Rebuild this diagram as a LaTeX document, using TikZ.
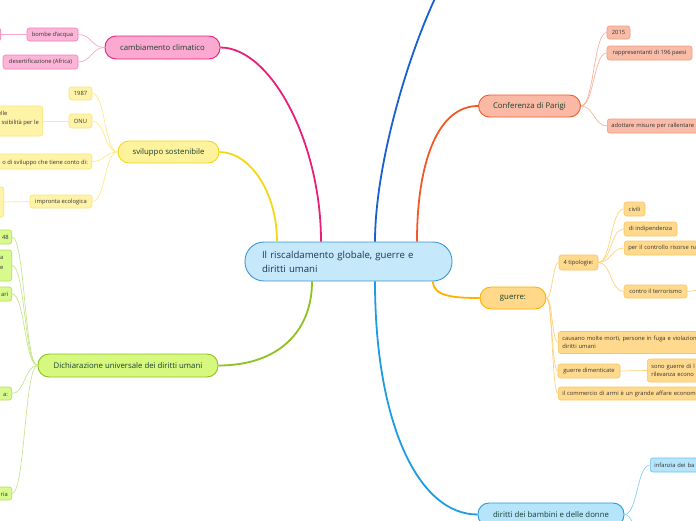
\documentclass[tikz,border=0pt]{standalone}
\usepackage{fontspec}
\setmainfont{Open Sans}
\usetikzlibrary{positioning}

\definecolor{rootfill}{HTML}{C6E8FB}
\definecolor{rootline}{HTML}{3A96D6}
\definecolor{roottext}{HTML}{1C3552}
\definecolor{topictext}{HTML}{173F2E}
\definecolor{leaftext}{HTML}{333333}
% pink
\definecolor{pinkline}{HTML}{E8207A}
\definecolor{pinkfill}{HTML}{FBA9D1}
\definecolor{pinkleaf}{HTML}{FBB5D7}
\definecolor{pinkedge}{HTML}{F27DB7}
\definecolor{pinktwig}{HTML}{F8A6CC}
% yellow
\definecolor{yelline}{HTML}{F2D816}
\definecolor{yelfill}{HTML}{FFF29C}
\definecolor{yelleaf}{HTML}{FFF3A8}
\definecolor{yeledge}{HTML}{F8E27A}
\definecolor{yeltwig}{HTML}{FAE98E}
% green
\definecolor{grnline}{HTML}{8DC21F}
\definecolor{grnfill}{HTML}{D6F87E}
\definecolor{grnleaf}{HTML}{D8F98C}
\definecolor{grnedge}{HTML}{B2DF5A}
\definecolor{grntwig}{HTML}{C6E68C}
% salmon
\definecolor{salline}{HTML}{F05A28}
\definecolor{salfill}{HTML}{F9B9A5}
\definecolor{salleaf}{HTML}{F9BCA9}
\definecolor{saledge}{HTML}{F49A7C}
\definecolor{saltwig}{HTML}{F7B29C}
% orange
\definecolor{oraline}{HTML}{FFB000}
\definecolor{orafill}{HTML}{FFD88A}
\definecolor{oraleaf}{HTML}{FFDA8E}
\definecolor{oraedge}{HTML}{FCC55C}
\definecolor{oratwig}{HTML}{FFD27A}
% blue
\definecolor{bluline}{HTML}{1E9BE3}
\definecolor{blufill}{HTML}{B6E4FA}
\definecolor{bluleaf}{HTML}{B6E4FA}
\definecolor{bluedge}{HTML}{6CC4EE}
\definecolor{blutwig}{HTML}{88CFF2}
\definecolor{darkblu}{HTML}{1A5FD0}

\begin{document}
\begin{tikzpicture}[
  x=1pt, y=-1pt,
  root/.style={draw=rootline, fill=rootfill, line width=0.9pt, rounded corners=19pt,
    minimum width=207pt, minimum height=39pt, text width=173pt, inner xsep=17pt,
    align=left, font=\fontsize{9.6}{14}\selectfont, text=roottext},
  topic/.style={draw, line width=0.9pt, rounded corners=11pt, minimum height=23pt,
    inner sep=0pt, font=\fontsize{7.8}{10}\selectfont, text=topictext},
  leaf/.style={draw, line width=0.6pt, rounded corners=2.5pt, minimum height=13pt,
    inner xsep=4pt, inner ysep=0pt, align=left, font=\fontsize{5.8}{8}\selectfont, text=leaftext},
  frag/.style={inner sep=0pt, font=\fontsize{5.8}{8}\selectfont, text=leaftext},
  branch/.style={line width=1.8pt},
  twig/.style={line width=0.7pt},
]
\useasboundingbox (0,0) rectangle (696,520);
\clip (0,0) rectangle (696,520);

% === ROOT ===
\node[root] (root) at (348.5,261.5) {Il riscaldamento globale, guerre e\\diritti umani};

% === MAIN TOPICS ===
\node[topic, fill=pinkfill, draw=pinkline, minimum width=115pt] (cc) at (162.5,47.5) {cambiamento climatico};
\node[topic, fill=yelfill, draw=yelline, minimum width=101pt, minimum height=22pt] (ss) at (168.5,152) {sviluppo sostenibile};
\node[topic, fill=grnfill, draw=grnline, minimum width=180pt] (du) at (128,365.5) {Dichiarazione universale dei diritti umani};
\node[topic, fill=salfill, draw=salline, minimum width=102pt, minimum height=22pt] (cp) at (529.5,106) {Conferenza di Parigi};
\node[topic, fill=orafill, draw=oraline, minimum width=66pt, minimum height=22pt] (gu) at (513,298) {guerre:};
\node[topic, fill=blufill, draw=bluline, minimum width=146pt] (db) at (551,514.5) {diritti dei bambini e delle donne};
\coordinate (topend) at (480,-60);

\draw[branch, pinkline] ([xshift=-27.5pt]root.north) .. controls +(0,-100) and +(50,0) .. (cc.east);
\draw[branch, yelline] ([xshift=-71.5pt]root.north) .. controls +(0,-50) and +(30,0) .. (ss.east);
\draw[branch, darkblu] ([xshift=26.5pt]root.north) .. controls +(0,-110) and +(-35,0) .. (topend);
\draw[branch, salline] ([xshift=68.5pt]root.north) .. controls +(0,-80) and +(-40,0) .. (cp.west);
\draw[branch, grnline] ([xshift=-36.5pt]root.south) .. controls +(0,50) and +(60,0) .. (du.east);
\draw[branch, bluline] ([xshift=26.5pt]root.south) .. controls +(0,140) and +(-60,0) .. (db.west);
\draw[branch, oraline] ([xshift=84.5pt]root.south) .. controls +(0,15) and +(-25,0) .. (gu.west);

% === cambiamento climatico ===
\node[leaf, fill=pinkleaf, draw=pinkedge, minimum width=51pt] (ba) at (52.5,34.5) {bombe d'acqua};
\node[leaf, fill=pinkleaf, draw=pinkedge, minimum width=60pt, anchor=east] (bx) at (1,34.5) {};
\node[leaf, fill=pinkleaf, draw=pinkedge, minimum width=75pt, minimum height=14pt] (de) at (40.5,62) {desertificazione (Africa)};
\draw[twig, pinktwig] (cc.west) to[out=180, in=0, distance=13pt] (ba.east);
\draw[twig, pinktwig] (cc.west) to[out=180, in=0, distance=13pt] (de.east);
\draw[twig, pinktwig] (ba.west) -- (bx.east);

% === sviluppo sostenibile ===
\node[leaf, fill=yelleaf, draw=yeledge, minimum width=23pt] (y1) at (80.5,93.5) {1987};
\node[leaf, fill=yelleaf, draw=yeledge, minimum width=23pt, minimum height=14pt] (onu) at (80.5,121) {ONU};
\node[leaf, fill=yelleaf, draw=yeledge, minimum width=120pt, minimum height=30pt, anchor=east] (ob) at (43,121) {};
\node[frag, anchor=base east] (ob1) at (7.5,115.5) {elle};
\node[frag, anchor=base east] (ob2) at (39,124.5) {ssibilità per le};
\node[leaf, fill=yelleaf, draw=yeledge, minimum width=200pt, minimum height=15pt, anchor=east] (sv) at (92,161.5) {};
\node[frag, anchor=base east] (sv1) at (88,164) {o di sviluppo che tiene conto di:};
\node[leaf, fill=yelleaf, draw=yeledge, minimum width=62pt] (ie) at (61,201.5) {impronta ecologica};
\node[leaf, fill=yelleaf, draw=yeledge, minimum width=60pt, minimum height=30pt, anchor=east] (ib) at (4,202) {};
\draw[twig, yeltwig] (ss.west) to[out=180, in=0, distance=13pt] (y1.east);
\draw[twig, yeltwig] (ss.west) to[out=180, in=0, distance=13pt] (onu.east);
\draw[twig, yeltwig] (ss.west) to[out=180, in=0, distance=13pt] (sv.east);
\draw[twig, yeltwig] (ss.west) to[out=180, in=0, distance=13pt] (ie.east);
\draw[twig, yeltwig] (onu.west) -- (ob.east);
\draw[twig, yeltwig] (ie.west) -- (ib.east);

% === Dichiarazione universale ===
\node[leaf, fill=grnleaf, draw=grnedge, minimum width=60pt, minimum height=14pt, anchor=east] (g1) at (12,237) {};
\node[frag, anchor=base east] (g1t) at (9,239.5) {48};
\node[leaf, fill=grnleaf, draw=grnedge, minimum width=60pt, minimum height=31pt, anchor=east] (g2) at (12,265.5) {};
\node[frag, anchor=base east] (g2a) at (3.5,259) {a};
\node[frag, anchor=base east] (g2b) at (3.5,269) {e};
\node[leaf, fill=grnleaf, draw=grnedge, minimum width=60pt, minimum height=14pt, anchor=east] (g3) at (12,294) {};
\node[frag, anchor=base east] (g3t) at (8.5,296.5) {ari};
\node[leaf, fill=grnleaf, draw=grnedge, minimum width=60pt, anchor=east] (g4) at (12,393.5) {};
\node[frag, anchor=base east] (g4t) at (8,396) {a:};
\node[leaf, fill=grnleaf, draw=grnedge, minimum width=60pt, anchor=east] (g5) at (12,493.5) {};
\node[frag, anchor=base east] (g5t) at (8,496) {ria};
\foreach \g in {g1,g2,g3,g4,g5}
  \draw[twig, grntwig] (du.west) to[out=180, in=0, distance=13pt] (\g.east);

% === Conferenza di Parigi ===
\node[leaf, fill=salleaf, draw=saledge, minimum width=23pt] (c1) at (618.5,32.5) {2015};
\node[leaf, fill=salleaf, draw=saledge, minimum width=85pt, minimum height=14pt] (c2) at (649.5,53) {rappresentanti di 196 paesi};
\node[leaf, fill=salleaf, draw=saledge, text width=192pt, minimum height=14pt, anchor=west] (c3) at (607,126) {adottare misure per rallentare};
\foreach \c in {c1,c2,c3}
  \draw[twig, saltwig] (cp.east) to[out=0, in=180, distance=13pt] (\c.west);

% === guerre ===
\node[leaf, fill=oraleaf, draw=oraedge, minimum width=39pt, minimum height=15pt] (t4) at (578.5,262.5) {4 tipologie:};
\node[leaf, fill=oraleaf, draw=oraedge, minimum width=21pt, minimum height=14pt] (w1) at (634.5,209) {civili};
\node[leaf, fill=oraleaf, draw=oraedge, minimum width=53pt, minimum height=14pt] (w2) at (650.5,229) {di indipendenza};
\node[leaf, fill=oraleaf, draw=oraedge, text width=150pt, minimum height=14pt, anchor=west] (w3) at (624,248) {per il controllo risorse na};
\node[leaf, fill=oraleaf, draw=oraedge, minimum width=63pt] (w4) at (655.5,291.5) {contro il terrorismo};
\coordinate (wx) at (730,280);
\node[leaf, fill=oraleaf, draw=oraedge, text width=150pt, minimum height=22pt, anchor=west] (k1) at (558,342.5) {causano molte morti, persone in fuga e violazione\\diritti umani};
\node[leaf, fill=oraleaf, draw=oraedge, minimum width=62pt, minimum height=14pt] (k2) at (589,371) {guerre dimenticate};
\node[leaf, fill=oraleaf, draw=oraedge, text width=100pt, minimum height=23pt, anchor=west] (k3) at (647,370.5) {sono guerre di l\\rilevanza econo};
\node[leaf, fill=oraleaf, draw=oraedge, text width=150pt, anchor=west] (k4) at (558,393.5) {il commercio di armi è un grande affare econom};
\foreach \w in {w1,w2,w3,w4}
  \draw[twig, oratwig] (t4.east) to[out=0, in=180, distance=13pt] (\w.west);
\foreach \k in {t4,k1,k2,k4}
  \draw[twig, oratwig] (gu.east) to[out=0, in=180, distance=6pt] (\k.west);
\draw[twig, oratwig] (w4.east) to[out=0, in=180, distance=12pt] (wx);
\draw[twig, oratwig] (k2.east) -- (k3.west);

% === diritti dei bambini e delle donne ===
\node[leaf, fill=bluleaf, draw=bluedge, text width=100pt, minimum height=14pt, anchor=west] (b1) at (650,465) {infanzia dei ba};
\coordinate (bx2) at (650,560);
\draw[twig, blutwig] (db.east) to[out=0, in=180, distance=13pt] (b1.west);
\draw[twig, blutwig] (db.east) to[out=0, in=180, distance=13pt] (bx2);
\end{tikzpicture}
\end{document}
